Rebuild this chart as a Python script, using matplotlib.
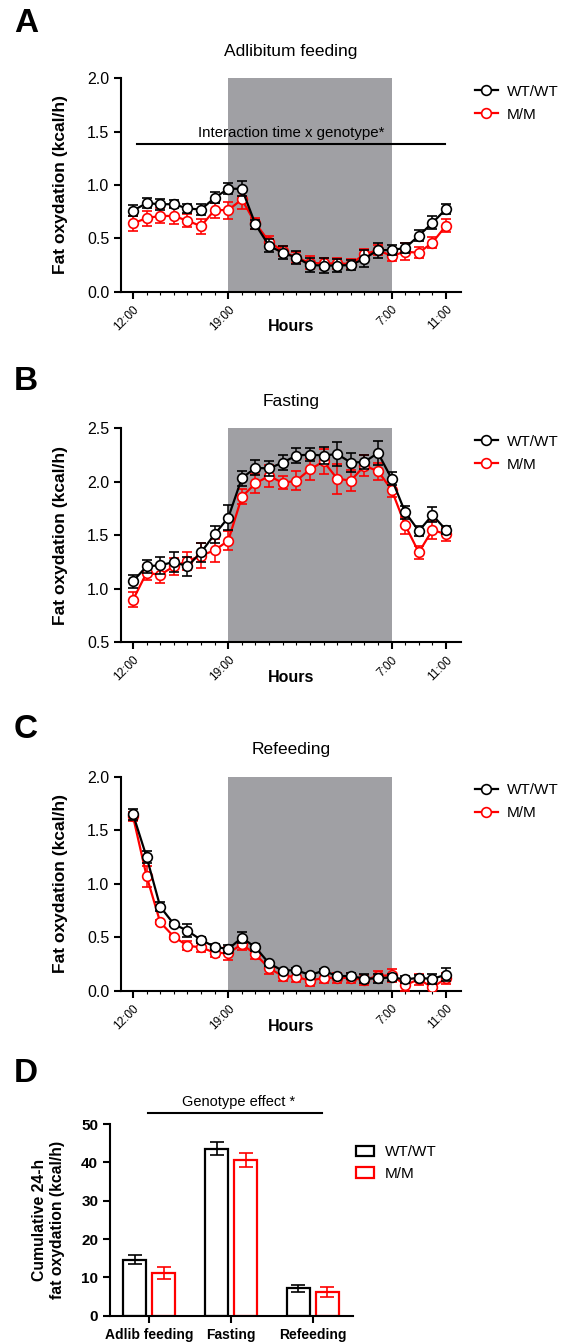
import numpy as np
import matplotlib
matplotlib.use('Agg')
import matplotlib.pyplot as plt
from matplotlib.patches import Patch
from matplotlib.lines import Line2D

plt.rcParams['font.family'] = ['Liberation Sans', 'DejaVu Sans']

# hourly time points 12:00 -> 11:00
hours = np.arange(24)
tick_pos = [0, 7, 19, 23]
tick_labels = ['12:00', '19:00', '7:00', '11:00']

# A. ad libitum feeding
A_wt = [0.76, 0.83, 0.82, 0.82, 0.78, 0.77, 0.88, 0.965, 0.965, 0.63, 0.43, 0.365,
        0.32, 0.25, 0.245, 0.245, 0.25, 0.31, 0.39, 0.39, 0.41, 0.525, 0.645, 0.775]
A_wt_err = [0.05, 0.05, 0.05, 0.04, 0.04, 0.05, 0.05, 0.05, 0.07, 0.04, 0.06, 0.06,
            0.06, 0.07, 0.07, 0.06, 0.05, 0.08, 0.07, 0.05, 0.05, 0.05, 0.06, 0.05]
A_mm = [0.64, 0.69, 0.71, 0.71, 0.665, 0.615, 0.765, 0.765, 0.865, 0.64, 0.47, 0.38,
        0.32, 0.27, 0.265, 0.265, 0.26, 0.35, 0.39, 0.335, 0.375, 0.365, 0.46, 0.62]
A_mm_err = [0.07, 0.07, 0.07, 0.08, 0.06, 0.07, 0.07, 0.08, 0.09, 0.05, 0.05, 0.05,
            0.05, 0.06, 0.05, 0.05, 0.05, 0.05, 0.05, 0.05, 0.08, 0.05, 0.05, 0.06]

# B. fasting
B_wt = [1.07, 1.21, 1.22, 1.25, 1.21, 1.34, 1.51, 1.665, 2.035, 2.13, 2.125, 2.18,
        2.245, 2.255, 2.245, 2.26, 2.18, 2.185, 2.27, 2.03, 1.715, 1.54, 1.69, 1.55]
B_wt_err = [0.06, 0.06, 0.08, 0.09, 0.09, 0.09, 0.08, 0.12, 0.07, 0.07, 0.07, 0.07,
            0.07, 0.06, 0.08, 0.11, 0.09, 0.07, 0.11, 0.06, 0.06, 0.05, 0.07, 0.04]
B_mm = [0.896, 1.15, 1.13, 1.21, 1.26, 1.31, 1.36, 1.45, 1.86, 1.985, 2.055, 1.99,
        2.01, 2.115, 2.19, 2.03, 2.01, 2.15, 2.10, 1.925, 1.595, 1.34, 1.55, 1.51]
B_mm_err = [0.07, 0.07, 0.08, 0.08, 0.08, 0.12, 0.11, 0.09, 0.07, 0.09, 0.10, 0.06,
            0.09, 0.10, 0.12, 0.14, 0.10, 0.10, 0.08, 0.07, 0.08, 0.06, 0.08, 0.06]

# C. refeeding
C_wt = [1.65, 1.25, 0.785, 0.623, 0.56, 0.475, 0.41, 0.39, 0.495, 0.405, 0.255, 0.187,
        0.193, 0.146, 0.187, 0.137, 0.137, 0.112, 0.115, 0.125, 0.106, 0.12, 0.11, 0.15]
C_wt_err = [0.05, 0.06, 0.04, 0.02, 0.06, 0.03, 0.03, 0.04, 0.05, 0.03, 0.02, 0.02,
            0.02, 0.02, 0.02, 0.02, 0.03, 0.04, 0.04, 0.03, 0.03, 0.03, 0.05, 0.06]
C_mm = [1.63, 1.07, 0.64, 0.505, 0.42, 0.405, 0.355, 0.35, 0.435, 0.34, 0.21, 0.137,
        0.13, 0.093, 0.12, 0.12, 0.12, 0.10, 0.137, 0.145, 0.053, 0.106, 0.031, 0.115]
C_mm_err = [0.04, 0.10, 0.02, 0.02, 0.04, 0.04, 0.04, 0.06, 0.05, 0.04, 0.05, 0.05,
            0.05, 0.05, 0.05, 0.05, 0.05, 0.05, 0.05, 0.06, 0.06, 0.05, 0.05, 0.05]

# D. cumulative 24-h
conditions = ['Adlib feeding', 'Fasting', 'Refeeding']
D_wt = [14.6, 43.5, 7.2]
D_wt_err = [1.2, 1.7, 0.9]
D_mm = [11.2, 40.7, 6.3]
D_mm_err = [1.5, 1.8, 1.3]

RED = '#ff0000'
SHADE = '#a0a0a4'
W, H = 563, 1343

fig = plt.figure(figsize=(W / 100, H / 100), dpi=100)


def ax_rect(x0, y0, x1, y1):
    # pixel box -> figure fraction
    return [x0 / W, 1 - y1 / H, (x1 - x0) / W, (y1 - y0) / H]


def time_panel(rect, wt, wt_err, mm, mm_err, ylim, yticks, title, letter, letter_y):
    ax = fig.add_axes(rect)
    ax.axvspan(7, 19, color=SHADE, lw=0, zorder=0)
    for y, e, c, z in [(mm, mm_err, RED, 3), (wt, wt_err, 'black', 4)]:
        ax.errorbar(hours, y, yerr=e, color=c, lw=1.6, capsize=3.5, capthick=1.1,
                    elinewidth=1.1, marker='o', ms=7, mfc='white', mec=c, mew=1.2,
                    zorder=z)
    ax.set_xlim(-0.88, 24.1)
    ax.set_ylim(*ylim)
    ax.set_yticks(yticks)
    ax.set_yticklabels([f'{v:.1f}' for v in yticks], fontsize=11.5)
    ax.set_xticks(tick_pos)
    ax.set_xticklabels(tick_labels, rotation=45, ha='right', rotation_mode='anchor',
                       fontsize=8.5)
    ax.set_xticks(hours, minor=True)
    ax.tick_params(axis='x', which='minor', length=2, width=0.8)
    ax.tick_params(axis='both', which='major', length=5, width=1.5)
    for s in ['top', 'right']:
        ax.spines[s].set_visible(False)
    for s in ['left', 'bottom']:
        ax.spines[s].set_linewidth(1.5)
    ax.set_title(title, fontsize=12.5, pad=16)
    ax.set_xlabel('Hours', fontsize=11.5, fontweight='bold', va='center')
    ax.xaxis.set_label_coords(0.5, -0.165)
    ax.set_ylabel('Fat oxydation (kcal/h)', fontsize=12.5, fontweight='bold',
                  va='center')
    ax.yaxis.set_label_coords(-0.179, 0.5)
    handles = [Line2D([], [], color='black', lw=1.6, marker='o', ms=7, mfc='white',
                      mew=1.2),
               Line2D([], [], color=RED, lw=1.6, marker='o', ms=7, mfc='white',
                      mew=1.2)]
    ax.legend(handles, ['WT/WT', 'M/M'], loc='upper left', bbox_to_anchor=(1.0, 1.035),
              frameon=False, fontsize=11, handlelength=1.5, handletextpad=0.6,
              labelspacing=0.6)
    fig.text(14 / W, 1 - letter_y / H, letter, fontsize=24, fontweight='bold',
             va='top', ha='left')
    return ax


axA = time_panel(ax_rect(121, 78.3, 461, 291.7), A_wt, A_wt_err, A_mm, A_mm_err,
                 (0, 2.0), [0.0, 0.5, 1.0, 1.5, 2.0], 'Adlibitum feeding', 'A', 8)
axA.plot([0.3, 22.9], [1.38, 1.38], color='black', lw=1.5, zorder=5)
axA.text(11.6, 1.42, 'Interaction time x genotype*', ha='center', va='bottom',
         fontsize=10.8, zorder=5)

time_panel(ax_rect(121, 428.3, 461, 642.3), B_wt, B_wt_err, B_mm, B_mm_err,
           (0.5, 2.5), [0.5, 1.0, 1.5, 2.0, 2.5], 'Fasting', 'B', 366)

time_panel(ax_rect(121, 776.7, 461, 990.7), C_wt, C_wt_err, C_mm, C_mm_err,
           (0, 2.0), [0.0, 0.5, 1.0, 1.5, 2.0], 'Refeeding', 'C', 714)

# D. bar chart
axD = fig.add_axes(ax_rect(110, 1124, 353, 1315.7))
xg = np.arange(len(conditions))
bw = 0.28
off = 0.177
axD.bar(xg - off, D_wt, bw, facecolor='white', edgecolor='black', lw=1.6)
axD.bar(xg + off, D_mm, bw, facecolor='white', edgecolor=RED, lw=1.6)
axD.errorbar(xg - off, D_wt, yerr=D_wt_err, fmt='none', ecolor='black',
             elinewidth=1.2, capsize=5, capthick=1.2)
axD.errorbar(xg + off, D_mm, yerr=D_mm_err, fmt='none', ecolor=RED,
             elinewidth=1.2, capsize=5, capthick=1.2)
axD.set_xlim(-0.48, 2.49)
axD.set_ylim(0, 50)
axD.set_yticks([0, 10, 20, 30, 40, 50])
axD.set_yticklabels(['0', '10', '20', '30', '40', '50'], fontsize=11, fontweight='bold')
axD.set_xticks(xg)
axD.set_xticklabels(conditions, fontsize=10, fontweight='bold')
axD.tick_params(axis='both', length=5, width=1.5)
for s in ['top', 'right']:
    axD.spines[s].set_visible(False)
for s in ['left', 'bottom']:
    axD.spines[s].set_linewidth(1.5)
axD.set_ylabel('Cumulative 24-h\nfat oxydation (kcal/h)', fontsize=11.3,
               fontweight='bold', va='center', linespacing=1.2)
axD.yaxis.set_label_coords(-0.253, 0.5)
axD.legend(handles=[Patch(facecolor='white', edgecolor='black', lw=1.6, label='WT/WT'),
                    Patch(facecolor='white', edgecolor=RED, lw=1.6, label='M/M')],
           loc='upper left', bbox_to_anchor=(0.955, 0.96), frameon=False, fontsize=11,
           handlelength=1.2, handleheight=0.7, handletextpad=0.7, labelspacing=0.5)
# genotype effect bracket above the axes
fig.add_artist(plt.Line2D([148 / W, 322 / W], [1 - 1113 / H, 1 - 1113 / H],
                          color='black', lw=1.5))
fig.text(239 / W, 1 - 1109 / H, 'Genotype effect *', ha='center', va='bottom',
         fontsize=10.5)
fig.text(14 / W, 1 - 1058 / H, 'D', fontsize=24, fontweight='bold', va='top', ha='left')

fig.savefig('out.png', dpi=100)
